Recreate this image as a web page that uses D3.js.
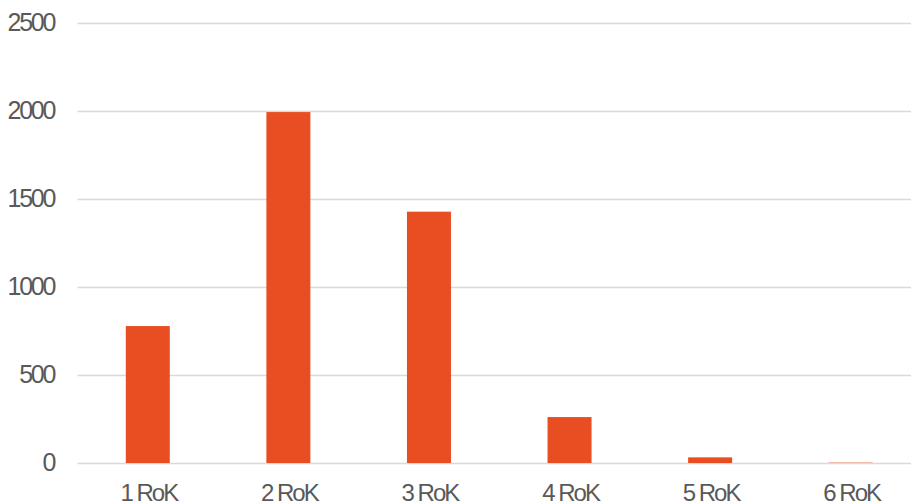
<!DOCTYPE html>
<html>
<head>
<meta charset="utf-8">
<script src="https://cdn.jsdelivr.net/npm/d3@7"></script>
<style>
  html, body { margin: 0; padding: 0; background: #fff; }
  svg { display: block; }
  .lbl { font-family: "Liberation Sans", Arial, sans-serif; fill: #595959; }
</style>
</head>
<body>
<svg id="chart" width="911" height="504"></svg>
<script>
// Counts per year of study
const categories = ["1 RoK", "2 RoK", "3 RoK", "4 RoK", "5 RoK", "6 RoK"];
const values = [778, 1994, 1428, 261, 32, 2];
const yTicks = [0, 500, 1000, 1500, 2000, 2500];

const svg = d3.select("#chart");
const plotLeft = 77.5, plotRight = 921, plotTop = 23, plotBottom = 463;

const x = d3.scaleBand()
  .domain(categories)
  .range([plotLeft, plotRight])
  .paddingInner(0.687)
  .paddingOuter(0.3435);

const y = d3.scaleLinear()
  .domain([0, 2500])
  .range([plotBottom, plotTop]);

// horizontal gridlines
svg.append("g")
  .selectAll("line")
  .data(yTicks)
  .join("line")
  .attr("x1", plotLeft)
  .attr("x2", 911)
  .attr("y1", d => Math.round(y(d)) + 0.5)
  .attr("y2", d => Math.round(y(d)) + 0.5)
  .attr("stroke", "#d9d9d9")
  .attr("stroke-width", 1.3);

// y-axis labels
svg.append("g")
  .selectAll("text")
  .data(yTicks)
  .join("text")
  .attr("class", "lbl")
  .attr("x", 54)
  .attr("y", d => y(d) + 8)
  .attr("text-anchor", "end")
  .style("font-size", "25px")
  .style("letter-spacing", "-2.3px")
  .text(d => d);

// bars
svg.append("g")
  .selectAll("rect")
  .data(values)
  .join("rect")
  .attr("x", (d, i) => x(categories[i]))
  .attr("width", x.bandwidth())
  .attr("y", d => y(d))
  .attr("height", d => y(0) - y(d))
  .attr("fill", "#e84e22");

// category labels
svg.append("g")
  .selectAll("text")
  .data(categories)
  .join("text")
  .attr("class", "lbl")
  .attr("x", d => x(d) + x.bandwidth() / 2 + 1)
  .attr("y", 500.5)
  .attr("text-anchor", "middle")
  .style("font-size", "24px")
  .style("letter-spacing", "-2px")
  .text(d => d);
</script>
</body>
</html>
